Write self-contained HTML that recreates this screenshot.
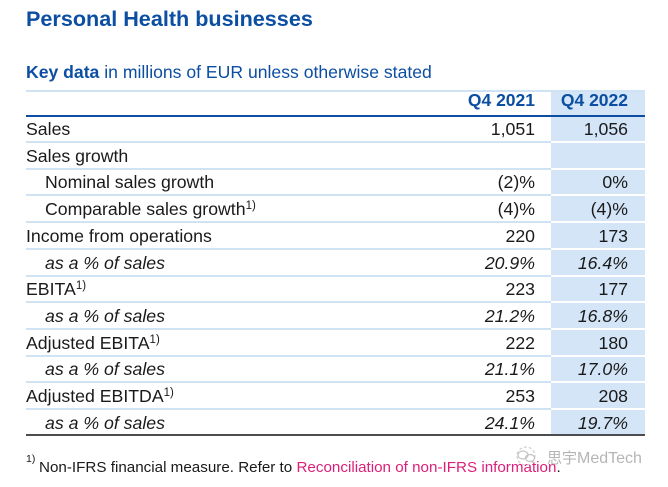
<!DOCTYPE html>
<html>
<head>
<meta charset="utf-8">
<style>
  html, body { margin:0; padding:0; background:#fff; }
  body { width:668px; height:487px; position:relative; overflow:hidden;
         font-family:"Liberation Sans", "Noto Sans CJK SC", sans-serif; color:#1a1a1a; }
  .a { position:absolute; white-space:nowrap; }
  .title { left:26px; top:7px; font-size:21.6px; line-height:24px; font-weight:bold; color:#0b4ea2; }
  .kd { left:26px; top:62px; font-size:17.6px; line-height:20px; color:#0b4ea2; }
  .kd b { font-weight:bold; }
  .hdr { font-size:17.5px; font-weight:bold; color:#0b4ea2; line-height:24px; top:88px; text-align:right; }
  .line { position:absolute; }
  .col { position:absolute; left:551px; width:94px; top:92px; height:342px; background:#d3e5f7; }
  .row { position:absolute; left:0; width:668px; height:24px; font-size:17.7px; line-height:24px; }
  .row .l { position:absolute; left:26px; white-space:nowrap; }
  .row .l.ind { left:45px; }
  .row .v1 { position:absolute; left:435px; width:100px; text-align:right; }
  .row .v2 { position:absolute; left:528px; width:100px; text-align:right; }
  .row.it { font-style:italic; }
  sup.s { font-size:11.5px; line-height:0; position:relative; top:-1px; vertical-align:5px; font-style:normal; }
  .sep { position:absolute; height:2px; }
  .foot { left:39px; top:459px; font-size:15.2px; line-height:18px; }
  .foot .pk { color:#dc1f7a; }
  .fsup { left:26px; top:453px; font-size:10.5px; line-height:12px; }
  .wm { left:547px; top:448px; font-size:16px; line-height:20px; color:#b5b5b5; }
  .wm .cj { font-family:"Noto Sans CJK SC", sans-serif; font-size:15px; }
</style>
</head>
<body>
  <div class="a title">Personal Health businesses</div>
  <div class="a kd"><b>Key data</b> in millions of EUR unless otherwise stated</div>

  <div class="line" style="left:26px;width:619px;top:90px;height:2px;background:#d0e3f5;"></div>
  <div class="col"></div>

  <div class="a hdr" style="left:435px;width:100px;">Q4 2021</div>
  <div class="a hdr" style="left:528px;width:100px;">Q4 2022</div>

  <div class="line" style="left:26px;width:619px;top:115px;height:2px;background:#0b4ea2;"></div>

  <div class="sep" style="left:26px;width:525px;top:141px;background:#d0e3f5;"></div><div class="sep" style="left:551px;width:94px;top:141px;background:#fff;"></div>
  <div class="sep" style="left:26px;width:525px;top:167.7px;background:#d0e3f5;"></div><div class="sep" style="left:551px;width:94px;top:167.7px;background:#fff;"></div>
  <div class="sep" style="left:26px;width:525px;top:194.4px;background:#d0e3f5;"></div><div class="sep" style="left:551px;width:94px;top:194.4px;background:#fff;"></div>
  <div class="sep" style="left:26px;width:525px;top:221.1px;background:#d0e3f5;"></div><div class="sep" style="left:551px;width:94px;top:221.1px;background:#fff;"></div>
  <div class="sep" style="left:26px;width:525px;top:247.8px;background:#d0e3f5;"></div><div class="sep" style="left:551px;width:94px;top:247.8px;background:#fff;"></div>
  <div class="sep" style="left:26px;width:525px;top:274.5px;background:#d0e3f5;"></div><div class="sep" style="left:551px;width:94px;top:274.5px;background:#fff;"></div>
  <div class="sep" style="left:26px;width:525px;top:301.2px;background:#d0e3f5;"></div><div class="sep" style="left:551px;width:94px;top:301.2px;background:#fff;"></div>
  <div class="sep" style="left:26px;width:525px;top:327.9px;background:#d0e3f5;"></div><div class="sep" style="left:551px;width:94px;top:327.9px;background:#fff;"></div>
  <div class="sep" style="left:26px;width:525px;top:354.6px;background:#d0e3f5;"></div><div class="sep" style="left:551px;width:94px;top:354.6px;background:#fff;"></div>
  <div class="sep" style="left:26px;width:525px;top:381.3px;background:#d0e3f5;"></div><div class="sep" style="left:551px;width:94px;top:381.3px;background:#fff;"></div>
  <div class="sep" style="left:26px;width:525px;top:408px;background:#d0e3f5;"></div><div class="sep" style="left:551px;width:94px;top:408px;background:#fff;"></div>

  <div class="line" style="left:26px;width:619px;top:434px;height:2px;background:#4d4d4f;"></div>

  <div class="row" style="top:117px;"><span class="l">Sales</span><span class="v1">1,051</span><span class="v2">1,056</span></div>
  <div class="row" style="top:143.7px;"><span class="l">Sales growth</span></div>
  <div class="row" style="top:170.4px;"><span class="l ind">Nominal sales growth</span><span class="v1">(2)%</span><span class="v2">0%</span></div>
  <div class="row" style="top:197.1px;"><span class="l ind">Comparable sales growth<sup class="s">1)</sup></span><span class="v1">(4)%</span><span class="v2">(4)%</span></div>
  <div class="row" style="top:223.8px;"><span class="l">Income from operations</span><span class="v1">220</span><span class="v2">173</span></div>
  <div class="row it" style="top:250.5px;"><span class="l ind">as a % of sales</span><span class="v1">20.9%</span><span class="v2">16.4%</span></div>
  <div class="row" style="top:277.2px;"><span class="l">EBITA<sup class="s">1)</sup></span><span class="v1">223</span><span class="v2">177</span></div>
  <div class="row it" style="top:303.9px;"><span class="l ind">as a % of sales</span><span class="v1">21.2%</span><span class="v2">16.8%</span></div>
  <div class="row" style="top:330.6px;"><span class="l">Adjusted EBITA<sup class="s">1)</sup></span><span class="v1">222</span><span class="v2">180</span></div>
  <div class="row it" style="top:357.3px;"><span class="l ind">as a % of sales</span><span class="v1">21.1%</span><span class="v2">17.0%</span></div>
  <div class="row" style="top:384px;"><span class="l">Adjusted EBITDA<sup class="s">1)</sup></span><span class="v1">253</span><span class="v2">208</span></div>
  <div class="row it" style="top:410.7px;"><span class="l ind">as a % of sales</span><span class="v1">24.1%</span><span class="v2">19.7%</span></div>

  <div class="a fsup">1)</div>
  <div class="a foot">Non-IFRS financial measure. Refer to <span class="pk">Reconciliation of non-IFRS information</span>.</div>

  <svg class="a" style="left:512px;top:446px;" width="30" height="20" viewBox="0 0 30 20">
    <circle cx="14" cy="10" r="9" fill="none" stroke="#d0d0d0" stroke-width="1.2" stroke-dasharray="3 2"/>
    <ellipse cx="11" cy="9" rx="5" ry="4" fill="none" stroke="#c4c4c4" stroke-width="1.2"/>
    <ellipse cx="18" cy="12" rx="4.5" ry="3.5" fill="none" stroke="#c4c4c4" stroke-width="1.2"/>
  </svg>
  <div class="a wm"><span class="cj">思宇</span>MedTech</div>
</body>
</html>
